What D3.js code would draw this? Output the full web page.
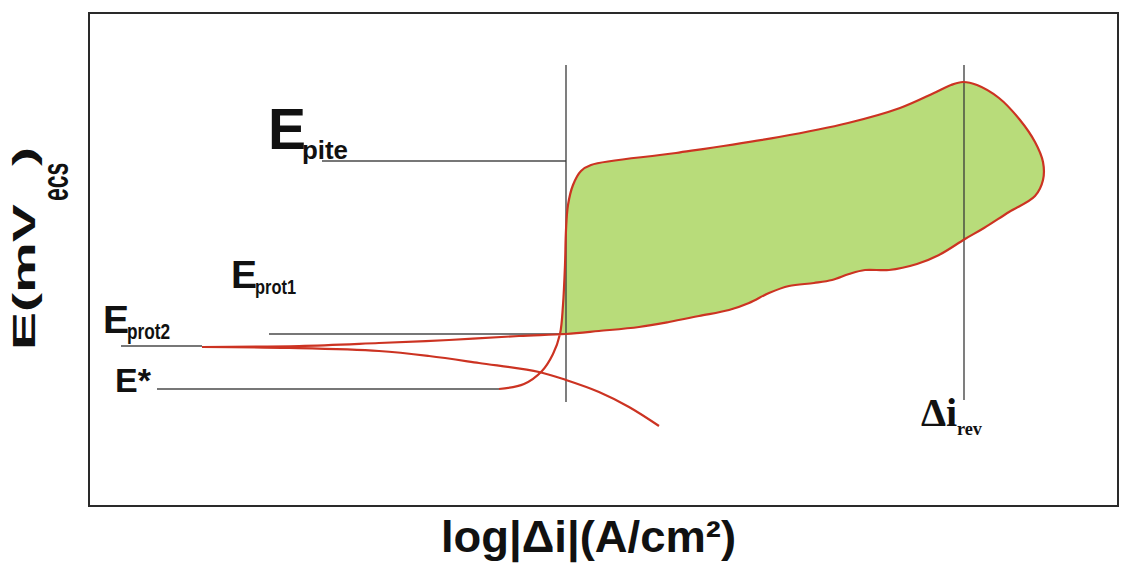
<!DOCTYPE html>
<html>
<head>
<meta charset="utf-8">
<script src="https://cdn.jsdelivr.net/npm/d3@7"></script>
<style>
  body { margin: 0; background: #fff; }
  svg { display: block; }
  text { font-family: "Liberation Sans", Arial, sans-serif; font-weight: bold; fill: #111; }
</style>
</head>
<body>
<svg id="chart" width="1123" height="564"></svg>
<script>
// schematic polarisation curve, arbitrary units (x = log|Δi|, y = E)
var forwardScan = [
  [410,117],[435,122],[453,135],[464,152],[471,172],[474,201],[476,241],[477,276],
  [479,301],[484,321],[492,335],[502,341],[587,353],[690,369],[759,383],[811,398],
  [845,413],[862,421],[874,424],[888,421],[910,408],[931,386],[946,364],[954,344],
  [954,326],[946,310]
];
var reverseScan = [
  [946,310],[920,294],[895,278],[876,267],[850,251],[828,242],[800,236],[776,236],
  [760,232],[743,226],[725,223],[700,220],[680,213],[660,203],[640,196],[610,190],
  [580,184],[550,179],[510,175],[477,172],[430,170],[360,166],[290,163],[210,160],[113,159]
];
var cathodicBranch = [
  [113,159],[200,158],[290,155],[340,150],[390,143],[450,134],[477,126],[510,114],[540,99],[570,80]
];
// reference levels: [x0, x1, y]
var levels = [
  [233,477,345],   // E pite
  [180,477,172],   // E prot1
  [32,113,160],    // E prot2
  [68,410,117]     // E*
];
// vertical markers: [x, y0, y1]
var markers = [
  [477,104,441],
  [875,106,441]
];

var svg = d3.select("#chart");
var frame = {left: 89, right: 1118, top: 13, bottom: 506};

var x = d3.scaleLinear().domain([0, 1029]).range([frame.left, frame.right]);
var y = d3.scaleLinear().domain([0, 493]).range([frame.bottom, frame.top]);

var line = d3.line()
  .x(function(d) { return x(d[0]); })
  .y(function(d) { return y(d[1]); })
  .curve(d3.curveCatmullRom.alpha(0.5));

// green area between forward and reverse scans
var startIdx = 4; // point where the forward scan crosses the return
var loop = forwardScan.slice(startIdx).concat(reverseScan.slice(1, 20));
svg.append("path")
  .attr("d", line(loop) + "Z")
  .attr("fill", "#b8dc7a")
  .attr("stroke", "none");

// grey reference lines
svg.selectAll(".level").data(levels).enter().append("line")
  .attr("class", "level")
  .attr("x1", function(d) { return x(d[0]); })
  .attr("x2", function(d) { return x(d[1]); })
  .attr("y1", function(d) { return y(d[2]); })
  .attr("y2", function(d) { return y(d[2]); })
  .attr("stroke", "#4a4a4a").attr("stroke-width", 1.4);

svg.selectAll(".marker").data(markers).enter().append("line")
  .attr("class", "marker")
  .attr("x1", function(d) { return x(d[0]); })
  .attr("x2", function(d) { return x(d[0]); })
  .attr("y1", function(d) { return y(d[1]); })
  .attr("y2", function(d) { return y(d[2]); })
  .attr("stroke", "#3a3a3a").attr("stroke-width", 1.3);

// red curves
svg.append("path")
  .attr("d", line(forwardScan.concat(reverseScan.slice(1))))
  .attr("fill", "none").attr("stroke", "#cc3322").attr("stroke-width", 2.2);
svg.append("path")
  .attr("d", line(cathodicBranch))
  .attr("fill", "none").attr("stroke", "#cc3322").attr("stroke-width", 2.2);

// frame
svg.append("rect")
  .attr("x", frame.left).attr("y", frame.top)
  .attr("width", frame.right - frame.left).attr("height", frame.bottom - frame.top)
  .attr("fill", "none").attr("stroke", "#2a2a2a").attr("stroke-width", 2);

// labels
function label(txt, dx, dy, size, len, family) {
  var t = svg.append("text")
    .attr("x", x(dx)).attr("y", y(dy))
    .style("font-size", size + "px")
    .text(txt);
  if (len) t.attr("textLength", len).attr("lengthAdjust", "spacingAndGlyphs");
  if (family) t.style("font-family", family);
  return t;
}
label("E", 179, 357, 57);
label("pite", 213, 347, 25, 46);
label("E", 142, 218, 39);
label("prot1", 166, 212, 21, 41);
label("E", 14, 173, 39);
label("prot2", 38, 167, 22, 43);
label("E*", 26, 114, 34);
label("Δi", 832, 80, 40, null, "'Liberation Serif', 'Times New Roman', serif");
label("rev", 868, 71, 18, 25, "'Liberation Serif', 'Times New Roman', serif");

// x axis title
svg.append("text")
  .attr("x", 441).attr("y", 552)
  .attr("textLength", 295).attr("lengthAdjust", "spacingAndGlyphs")
  .style("font-size", "44px")
  .text("log|Δi|(A/cm²)");

// y axis title (rotated, glyphs squeezed across the reading direction)
var yt = svg.append("g").attr("transform", "translate(35,350) rotate(-90)");
yt.append("text").attr("transform", "scale(1,0.56)")
  .style("font-size", "57px").text("E(mV");
yt.append("text").attr("transform", "translate(184,0) scale(1,0.56)")
  .style("font-size", "57px").text(")");
yt.append("text").attr("transform", "translate(149,33) scale(1,1.6)")
  .style("font-size", "23px").text("ecs");
</script>
</body>
</html>
